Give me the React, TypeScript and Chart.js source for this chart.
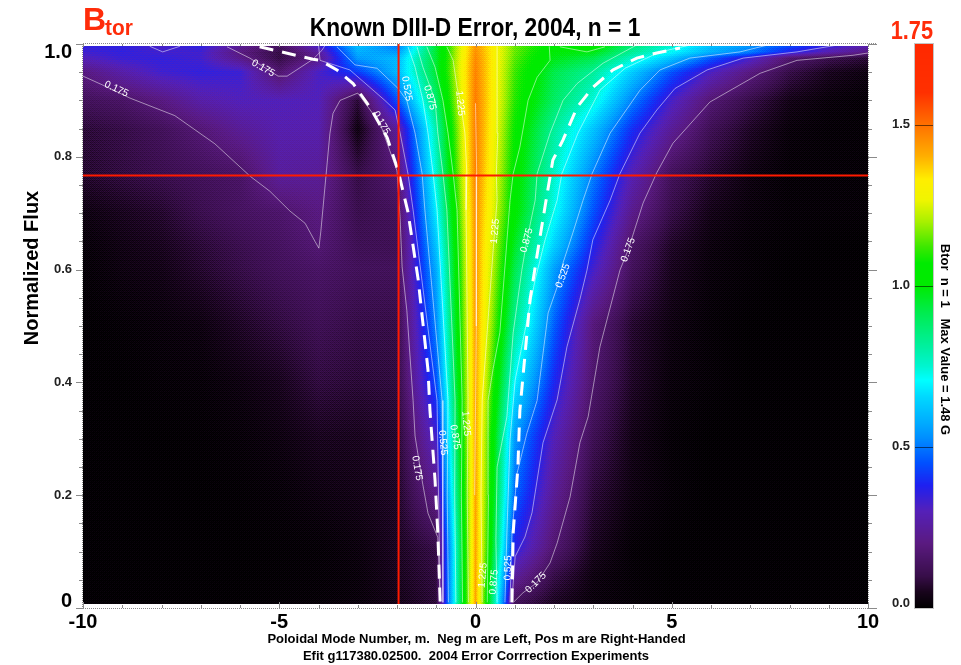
import React, { useEffect, useRef } from "react";
import { Chart, registerables } from "chart.js";

Chart.register(...registerables);

const FONT = '"Liberation Sans", Arial, sans-serif';

const modeNumbers = [-10, -9, -8, -7, -6, -5, -4, -3, -2, -1, 0, 1, 2, 3, 4, 5, 6, 7, 8, 9, 10];
const fluxRows = [0.007, 0.057, 0.107, 0.205, 0.305, 0.404, 0.503, 0.603, 0.642, 0.702, 0.77, 0.85, 0.9, 0.95, 0.975, 0.985, 1];

const row00 = [0, 0, 0, 0, 0, 0.005, 0.01, 0.02, 0.04, 0.08, 1.42, 0.12, 0.05, 0.02, 0.01, 0, 0, 0, 0, 0, 0];
const row01 = [0, 0, 0, 0, 0, 0.005, 0.01, 0.02, 0.05, 0.09, 1.42, 0.25, 0.1, 0.03, 0.01, 0, 0, 0, 0, 0, 0];
const row02 = [0, 0, 0, 0, 0, 0.005, 0.01, 0.025, 0.055, 0.1, 1.42, 0.37, 0.17, 0.05, 0.01, 0, 0, 0, 0, 0, 0];
const row03 = [0, 0, 0, 0, 0.005, 0.015, 0.03, 0.04, 0.06, 0.22, 1.42, 0.48, 0.24, 0.08, 0.03, 0.01, 0, 0, 0, 0, 0];
const row04 = [0, 0, 0, 0.005, 0.015, 0.03, 0.05, 0.05, 0.07, 0.33, 1.42, 0.55, 0.3, 0.12, 0.04, 0.01, 0, 0, 0, 0, 0];
const row05 = [0, 0, 0.01, 0.015, 0.03, 0.05, 0.09, 0.08, 0.09, 0.45, 1.42, 0.7, 0.39, 0.16, 0.06, 0.02, 0.01, 0, 0, 0, 0];
const row06 = [0, 0.01, 0.02, 0.03, 0.06, 0.09, 0.12, 0.1, 0.1, 0.52, 1.43, 0.83, 0.47, 0.19, 0.07, 0.03, 0.01, 0, 0, 0, 0];
const row07 = [0.01, 0.03, 0.04, 0.07, 0.1, 0.13, 0.15, 0.13, 0.13, 0.58, 1.44, 0.92, 0.56, 0.33, 0.13, 0.05, 0.02, 0.01, 0, 0, 0];
const row08 = [0.015, 0.035, 0.05, 0.08, 0.11, 0.14, 0.175, 0.12, 0.12, 0.62, 1.44, 0.96, 0.64, 0.38, 0.15, 0.06, 0.025, 0.01, 0.005, 0, 0];
const row09 = [0.03, 0.05, 0.07, 0.11, 0.14, 0.16, 0.2, 0.11, 0.13, 0.69, 1.45, 1.02, 0.72, 0.45, 0.22, 0.1, 0.04, 0.02, 0.01, 0.01, 0.01];
const row10 = [0.07, 0.09, 0.11, 0.13, 0.15, 0.25, 0.24, 0.1, 0.17, 0.75, 1.47, 1.04, 0.76, 0.51, 0.29, 0.13, 0.07, 0.03, 0.01, 0.01, 0.01];
const row11 = [0.08, 0.1, 0.13, 0.18, 0.24, 0.28, 0.28, 0.03, 0.25, 0.8, 1.48, 1.07, 0.82, 0.62, 0.4, 0.24, 0.12, 0.06, 0.02, 0.01, 0.01];
const row12 = [0.13, 0.15, 0.2, 0.27, 0.3, 0.3, 0.3, 0.08, 0.45, 0.88, 1.48, 1.1, 0.89, 0.74, 0.51, 0.32, 0.175, 0.1, 0.04, 0.02, 0.01];
const row13 = [0.2, 0.27, 0.33, 0.35, 0.34, 0.17, 0.32, 0.42, 0.6, 0.95, 1.47, 1.12, 0.92, 0.82, 0.63, 0.45, 0.31, 0.2, 0.1, 0.05, 0.03];
const row14 = [0.3, 0.34, 0.35, 0.33, 0.22, 0.1, 0.22, 0.55, 0.6, 0.95, 1.46, 1.14, 0.98, 0.92, 0.76, 0.62, 0.46, 0.33, 0.17, 0.11, 0.08];
const row15 = [0.33, 0.35, 0.33, 0.33, 0.2, 0.1, 0.25, 0.58, 0.55, 0.95, 1.45, 1.15, 1, 0.98, 0.82, 0.7, 0.58, 0.5, 0.37, 0.28, 0.2];
const row16 = [0.36, 0.36, 0.32, 0.37, 0.25, 0.15, 0.35, 0.62, 0.48, 0.95, 1.44, 1.15, 1.04, 1.06, 0.87, 0.76, 0.62, 0.55, 0.46, 0.37, 0.3];
const fieldRows = [row00, row01, row02, row03, row04, row05, row06, row07, row08, row09, row10, row11, row12, row13, row14, row15, row16];

// Colour table: [value, r, g, b]
const colorStops = [
  [0, 0, 0, 0], [0.05, 24, 4, 28], [0.1, 56, 14, 74], [0.2, 90, 26, 128], [0.3, 85, 32, 184], [0.38, 30, 32, 240],
  [0.45, 0, 80, 255], [0.53, 0, 144, 255], [0.583, 0, 176, 255], [0.655, 0, 216, 255], [0.707, 0, 255, 255],
  [0.75, 0, 245, 208], [0.81, 0, 240, 160], [0.915, 0, 236, 80], [1, 0, 235, 0], [1.07, 0, 235, 0], [1.12, 60, 232, 0],
  [1.2, 170, 240, 0], [1.266, 240, 245, 0], [1.33, 255, 238, 0], [1.4, 255, 176, 0], [1.5, 255, 112, 0], [1.6, 255, 48, 0], [1.75, 255, 40, 0],
];

const c175a = [[-10, 0.943], [-9.49, 0.927], [-8.8, 0.904], [-7.66, 0.873], [-6.64, 0.823], [-5.75, 0.766], [-5.24, 0.739], [-4.73, 0.704], [-4.34, 0.682], [-4.09, 0.65], [-3.99, 0.638], [-3.94, 0.668], [-3.71, 0.841], [-3.63, 0.877], [-3.45, 0.9], [-3, 0.913], [-2.43, 0.859], [-2, 0.775], [-1.92, 0.691], [-1.87, 0.605], [-1.75, 0.528], [-1.59, 0.368], [-1.54, 0.305], [-1.36, 0.226], [-1.21, 0.168], [-0.96, 0.125], [-0.9, 0.012]];
const c175b = [[-6.33, 0.995], [-5.75, 0.975], [-5.03, 0.943], [-4.8, 0.943], [-4.14, 0.973], [-3.91, 0.989], [-3.83, 0.998]];
const c175c = [[0.98, 0.011], [1.21, 0.027], [1.57, 0.045], [1.9, 0.08], [2.08, 0.115], [2.41, 0.197], [2.66, 0.293], [2.87, 0.339], [3.17, 0.463], [3.68, 0.599], [3.89, 0.635], [4.27, 0.718], [4.62, 0.772], [5.03, 0.824], [5.97, 0.897], [7.25, 0.948], [8.19, 0.971], [9.62, 0.98], [10, 0.984]];
const c350a = [[0.93, 0.014], [1.01, 0.091], [1.26, 0.126], [1.44, 0.169], [1.72, 0.293], [2.08, 0.369], [2.33, 0.463], [2.66, 0.547], [2.84, 0.599], [2.99, 0.653], [3.43, 0.723], [3.68, 0.77], [4.19, 0.842], [4.62, 0.883], [5.08, 0.921], [5.9, 0.954], [6.82, 0.975], [8.19, 0.986], [9.21, 0.998]];
const c350b = [[-0.9, 0.012], [-0.98, 0.368], [-1.59, 0.706], [-1.72, 0.77], [-1.92, 0.842], [-2.05, 0.883], [-2.31, 0.9], [-3.2, 0.954], [-3.96, 0.971], [-4, 0.998]];
const c350c = [[-8.3, 0.996], [-7.97, 0.986], [-7.53, 0.996]];
const c525a = [[0.88, 0.01], [0.93, 0.133], [1.06, 0.239], [1.31, 0.31], [1.57, 0.368], [1.85, 0.523], [2.08, 0.569], [2.23, 0.612], [2.48, 0.665], [2.74, 0.723], [2.97, 0.77], [3.43, 0.842], [4.19, 0.918], [4.7, 0.954], [5.46, 0.975], [6.74, 0.986], [7.43, 0.998]];
const c525b = [[-3.53, 0.995], [-3.07, 0.963], [-2.51, 0.957], [-1.97, 0.921], [-1.75, 0.9], [-1.54, 0.842], [-1.36, 0.77], [-1.29, 0.706], [-0.85, 0.368], [-0.83, 0.01]];
const c700a = [[0.75, 0.01], [0.8, 0.133], [0.88, 0.298], [1.01, 0.404], [1.26, 0.492], [1.52, 0.582], [1.77, 0.652], [2.08, 0.723], [2.2, 0.77], [2.61, 0.842], [3.17, 0.918], [3.81, 0.957], [4.7, 0.986], [5.46, 0.998]];
const c700b = [[-1.72, 0.995], [-1.54, 0.959], [-1.34, 0.9], [-1.21, 0.842], [-1.08, 0.77], [-0.98, 0.706], [-0.7, 0.368], [-0.72, 0.2], [-0.69, 0.01]];
const c875a = [[0.55, 0.01], [0.52, 0.12], [0.55, 0.25], [0.8, 0.339], [0.96, 0.488], [1.18, 0.599], [1.31, 0.652], [1.52, 0.723], [1.57, 0.77], [1.9, 0.842], [2.23, 0.9], [2.59, 0.93], [3.25, 0.966], [4.1, 0.998]];
const c875b = [[-1.49, 0.995], [-1.34, 0.959], [-1.03, 0.9], [-0.96, 0.842], [-0.83, 0.77], [-0.73, 0.706], [-0.52, 0.368], [-0.53, 0.2], [-0.5, 0.01]];
const c1050a = [[0.3, 0.01], [0.33, 0.2], [0.32, 0.368], [0.45, 0.425], [0.62, 0.488], [0.88, 0.723], [0.96, 0.77], [1.13, 0.817], [1.34, 0.9], [1.57, 0.941], [1.9, 0.971], [1.88, 0.996]];
const c1050b = [[-1.24, 0.995], [-1.03, 0.959], [-0.83, 0.9], [-0.7, 0.842], [-0.57, 0.77], [-0.47, 0.706], [-0.34, 0.368], [-0.36, 0.2], [-0.33, 0.01]];
const c1050c = [[2.15, 0.995], [2.84, 0.986], [3.3, 0.995]];
const c1225a = [[0.17, 0.01], [0.14, 0.2], [0.17, 0.368], [0.45, 0.635], [0.55, 0.723], [0.53, 0.77], [0.57, 0.842], [0.55, 0.996]];
const c1225b = [[-0.73, 0.995], [-0.57, 0.971], [-0.47, 0.923], [-0.39, 0.9], [-0.27, 0.842], [-0.22, 0.77], [-0.24, 0.706], [-0.19, 0.368], [-0.21, 0.2], [-0.18, 0.01]];
const c1400 = [[0, 0.895], [0.03, 0.77], [0.02, 0.5], [-0.02, 0.2]];
const contourLines = [c175a, c175b, c175c, c350a, c350b, c350c, c525a, c525b, c700a, c700b, c875a, c875b, c1050a, c1050b, c1050c, c1225a, c1225b, c1400];

const dashLeft = [[-5.5, 0.995], [-4.14, 0.973], [-3.96, 0.971], [-3.53, 0.954], [-3.12, 0.93], [-2.68, 0.887], [-2.25, 0.834], [-1.97, 0.775], [-1.72, 0.702], [-1.46, 0.582], [-1.21, 0.422], [-1.16, 0.35], [-1.03, 0.226], [-0.96, 0.133], [-0.9, 0.01]];
const dashRight = [[0.93, 0.01], [0.96, 0.133], [1.08, 0.25], [1.13, 0.35], [1.39, 0.547], [1.59, 0.635], [1.77, 0.711], [1.97, 0.794], [2.23, 0.83], [2.59, 0.888], [2.99, 0.923], [3.5, 0.954], [4.11, 0.975], [4.62, 0.984], [5.21, 0.993]];

const crossM = -1.96;
const crossFlux = 0.767;

const contourLabelText = ["0.175", "0.175", "0.175", "0.525", "0.875", "1.225", "1.225", "0.875", "0.525", "0.175", "0.175", "0.525", "0.875", "1.225", "1.225", "0.875", "0.525", "0.175"];
const contourLabelM = [-9.15, -5.41, -2.4, -1.75, -1.16, -0.39, 0.5, 1.31, 2.23, 3.89, -1.49, -0.83, -0.52, -0.24, 0.19, 0.47, 0.83, 1.54];
const contourLabelFlux = [0.92, 0.957, 0.86, 0.921, 0.905, 0.895, 0.668, 0.652, 0.589, 0.635, 0.248, 0.293, 0.303, 0.327, 0.058, 0.046, 0.071, 0.045];
const contourLabelAngle = [25, 30, 60, 80, 75, 85, -85, -75, -70, -70, 80, 85, 80, 85, -85, -85, -88, -45];

const xTickValues = [-10, -5, 0, 5, 10];
const fluxTickLabels = ["0.2", "0.4", "0.6", "0.8"];
const colorTickValues = [0.5, 1, 1.5];

const TITLE = "Known DIII-D Error, 2004, n = 1";
const Y_TITLE = "Normalized Flux";
const X_LINE_1 = "Poloidal Mode Number, m.  Neg m are Left, Pos m are Right-Handed";
const X_LINE_2 = "Efit g117380.02500.  2004 Error Corrrection Experiments";
const BAR_TITLE = "Btor  n = 1   Max Value = 1.48 G";

const RED = "#ff2c0a";
const BAYER = [0, 8, 2, 10, 12, 4, 14, 6, 3, 11, 1, 9, 15, 7, 13, 5];

function colorFor(v: number): number[] {
  for (let i = 1; i < colorStops.length; i++) {
    if (v <= colorStops[i][0]) {
      const a = colorStops[i - 1];
      const b = colorStops[i];
      const t = (v - a[0]) / (b[0] - a[0]);
      return [a[1] + (b[1] - a[1]) * t, a[2] + (b[2] - a[2]) * t, a[3] + (b[3] - a[3]) * t];
    }
  }
  const last = colorStops[colorStops.length - 1];
  return [last[1], last[2], last[3]];
}

function lookup(axis: number[], v: number): [number, number] {
  if (v <= axis[0]) return [0, 0];
  for (let i = 1; i < axis.length; i++) {
    if (v <= axis[i]) return [i - 1, (v - axis[i - 1]) / (axis[i] - axis[i - 1])];
  }
  return [axis.length - 2, 1];
}

const text = (ctx: CanvasRenderingContext2D, s: string, x: number, y: number, font: string, color: string, align: CanvasTextAlign = "center", angle = 0, sx = 1) => {
  ctx.save();
  ctx.translate(x, y);
  ctx.rotate((angle * Math.PI) / 180);
  ctx.scale(sx, 1);
  ctx.font = font;
  ctx.fillStyle = color;
  ctx.textAlign = align;
  ctx.textBaseline = "middle";
  ctx.fillText(s, 0, 0);
  ctx.restore();
};

const surfacePlugin = {
  id: "surface",
  beforeDatasetsDraw(chart: any) {
    const { ctx, chartArea, scales } = chart;
    const x0 = Math.round(chartArea.left);
    const x1 = Math.round(chartArea.right);
    const y0 = Math.round(scales.y.getPixelForValue(0.997));
    const y1 = Math.round(scales.y.getPixelForValue(fluxRows[0]));
    const img = ctx.createImageData(x1 - x0, y1 - y0);
    let k = 0;
    for (let py = y0; py < y1; py++) {
      const [r, tr] = lookup(fluxRows, scales.y.getValueForPixel(py + 0.5));
      const lo = fieldRows[r];
      const hi = fieldRows[r + 1];
      for (let px = x0; px < x1; px++) {
        const [c, tc] = lookup(modeNumbers, scales.x.getValueForPixel(px + 0.5));
        const a = lo[c] + (lo[c + 1] - lo[c]) * tc;
        const b = hi[c] + (hi[c + 1] - hi[c]) * tc;
        const grain = (BAYER[(py % 4) * 4 + (px % 4)] / 15 - 0.5) * 0.05;
        const rgb = colorFor(Math.max(0, a + (b - a) * tr + grain));
        img.data[k++] = rgb[0];
        img.data[k++] = rgb[1];
        img.data[k++] = rgb[2];
        img.data[k++] = 255;
      }
    }
    ctx.putImageData(img, x0, y0);
  },
  afterDatasetsDraw(chart: any) {
    const { ctx } = chart;
    contourLabelText.forEach((s, i) => {
      const x = chart.scales.x.getPixelForValue(contourLabelM[i]);
      const y = chart.scales.y.getPixelForValue(contourLabelFlux[i]);
      text(ctx, s, x, y, `10px ${FONT}`, "#ffffff", "center", contourLabelAngle[i]);
    });
  },
  afterDraw(chart: any) {
    const { ctx, chartArea, scales } = chart;
    const { left, right, top, bottom } = chartArea;

    // frame and tick marks
    ctx.save();
    ctx.strokeStyle = "#8a8a8a";
    ctx.lineWidth = 1;
    ctx.setLineDash([1, 1]);
    ctx.beginPath();
    ctx.moveTo(left, top - 0.5); ctx.lineTo(right + 8, top - 0.5);
    ctx.moveTo(left - 4, bottom + 0.5); ctx.lineTo(right + 8, bottom + 0.5);
    ctx.moveTo(left - 0.5, top); ctx.lineTo(left - 0.5, bottom);
    ctx.moveTo(right + 0.5, top); ctx.lineTo(right + 0.5, bottom);
    ctx.stroke();
    ctx.setLineDash([]);
    ctx.beginPath();
    for (const m of modeNumbers) {
      const px = Math.round(scales.x.getPixelForValue(m)) + 0.5;
      const len = m % 5 === 0 ? 6 : 3;
      ctx.moveTo(px, bottom); ctx.lineTo(px, bottom - len);
      ctx.moveTo(px, top); ctx.lineTo(px, top + (m % 5 === 0 ? 3 : 2));
    }
    for (let i = 0; i <= 20; i++) {
      const py = Math.round(scales.y.getPixelForValue(i * 0.05)) + 0.5;
      const major = i % 4 === 0;
      ctx.moveTo(left, py); ctx.lineTo(left - (major ? 7 : 4), py);
      ctx.moveTo(right, py); ctx.lineTo(right + (major ? 9 : 4), py);
    }
    ctx.stroke();
    ctx.restore();

    // colour bar
    const bx0 = 915, bx1 = 933;
    const by0 = Math.round(scales.bar.getPixelForValue(1.75));
    const by1 = Math.round(scales.bar.getPixelForValue(0));
    for (let py = by0; py < by1; py++) {
      const rgb = colorFor(scales.bar.getValueForPixel(py + 0.5));
      ctx.fillStyle = `rgb(${rgb[0]},${rgb[1]},${rgb[2]})`;
      ctx.fillRect(bx0, py, bx1 - bx0, 1);
    }
    ctx.save();
    ctx.strokeStyle = "rgba(0,0,0,0.55)";
    ctx.beginPath();
    for (const v of colorTickValues) {
      const py = Math.round(scales.bar.getPixelForValue(v)) + 0.5;
      ctx.moveTo(bx0, py); ctx.lineTo(bx1, py);
    }
    ctx.stroke();
    ctx.strokeStyle = "#8a8a8a";
    ctx.setLineDash([1, 1]);
    ctx.strokeRect(bx0 - 0.5, by0 - 0.5, bx1 - bx0 + 1, by1 - by0 + 1);
    ctx.restore();

    // texts
    text(ctx, TITLE, 475, 29, `bold 25px ${FONT}`, "#000", "center", 0, 0.91);
    text(ctx, "B", 83, 21, `bold 32px ${FONT}`, RED, "left");
    text(ctx, "tor", 105, 29, `bold 22px ${FONT}`, RED, "left", 0, 0.95);
    text(ctx, "1.75", 933, 32, `bold 25px ${FONT}`, RED, "right", 0, 0.87);
    text(ctx, Y_TITLE, 32, 268, `bold 20px ${FONT}`, "#000", "center", -90);
    text(ctx, X_LINE_1, 476.5, 639, `bold 13px ${FONT}`, "#000");
    text(ctx, X_LINE_2, 476, 656, `bold 13px ${FONT}`, "#000");
    text(ctx, BAR_TITLE, 945, 339.5, `bold 13px ${FONT}`, "#000", "center", 90);
    text(ctx, "1.0", 72, 52, `bold 20px ${FONT}`, "#000", "right");
    text(ctx, "0", 72, 601, `bold 20px ${FONT}`, "#000", "right");
    text(ctx, "0.0", 910, 603, `bold 13px ${FONT}`, "#222", "right");
  },
};

export default function App() {
  const ref = useRef<HTMLCanvasElement | null>(null);
  useEffect(() => {
    document.body.style.margin = "0";
    const heatPoints: any[] = [];
    fieldRows.forEach((row, r) => row.forEach((v, c) => heatPoints.push({ x: modeNumbers[c], y: fluxRows[r], v })));
    const toXY = (pts: number[][]) => pts.map(([x, y]) => ({ x, y }));
    const datasets: any[] = [
      { label: "Btor", data: heatPoints, pointRadius: 0, showLine: false, order: 5 },
      ...contourLines.map((pts, i) => ({
        label: `contour ${i}`, data: toXY(pts), showLine: true, pointRadius: 0,
        borderColor: "rgba(255,255,255,0.5)", borderWidth: 1, tension: 0, order: 3,
      })),
      ...[dashLeft, dashRight].map((pts, i) => ({
        label: `boundary ${i}`, data: toXY(pts), showLine: true, pointRadius: 0,
        borderColor: "#ffffff", borderWidth: 3, borderDash: [14, 9], tension: 0, order: 2,
      })),
      { label: "m cursor", data: [{ x: crossM, y: fluxRows[0] }, { x: crossM, y: 1 }], showLine: true, pointRadius: 0, borderColor: "#ff1a00", borderWidth: 2, order: 1 },
      { label: "flux cursor", data: [{ x: -10, y: crossFlux }, { x: 10, y: crossFlux }], showLine: true, pointRadius: 0, borderColor: "#ff1a00", borderWidth: 2, order: 1 },
    ];
    const chart = new Chart(ref.current as HTMLCanvasElement, {
      type: "scatter",
      data: { datasets },
      options: {
        animation: false,
        responsive: false,
        events: [],
        layout: { padding: { top: 44, left: 0, right: 0, bottom: 0 } },
        plugins: { legend: { display: false }, tooltip: { enabled: false }, title: { display: false } },
        scales: {
          x: {
            type: "linear", min: -10, max: 10, position: "bottom",
            afterBuildTicks: (s: any) => { s.ticks = xTickValues.map((value) => ({ value })); },
            afterFit: (s: any) => { s.height = 57; },
            grid: { display: false, tickLength: 0 }, border: { display: false },
            ticks: { autoSkip: false, maxRotation: 0, padding: 2, color: "#000", font: { family: FONT, size: 20, weight: "bold" }, callback: (v: any) => String(v) },
          },
          y: {
            type: "linear", min: 0, max: 1, position: "left",
            afterBuildTicks: (s: any) => { s.ticks = fluxTickLabels.map((t) => ({ value: Number(t) })); },
            afterFit: (s: any) => { s.width = 83; },
            grid: { display: false, tickLength: 0 }, border: { display: false },
            ticks: { autoSkip: false, padding: 11, color: "#222", font: { family: FONT, size: 13, weight: "bold" }, callback: (v: any) => Number(v).toFixed(1) },
          },
          bar: {
            type: "linear", min: 0, max: 1.75, position: "right",
            afterBuildTicks: (s: any) => { s.ticks = colorTickValues.map((value) => ({ value })); },
            afterFit: (s: any) => { s.width = 93; },
            grid: { display: false, tickLength: 0 }, border: { display: false },
            ticks: { autoSkip: false, padding: 24, color: "#222", font: { family: FONT, size: 13, weight: "bold" }, callback: (v: any) => Number(v).toFixed(1) },
          },
        },
      },
      plugins: [surfacePlugin],
    } as any);
    return () => chart.destroy();
  }, []);
  return <canvas ref={ref} width={961} height={665} style={{ display: "block" }} />;
}
